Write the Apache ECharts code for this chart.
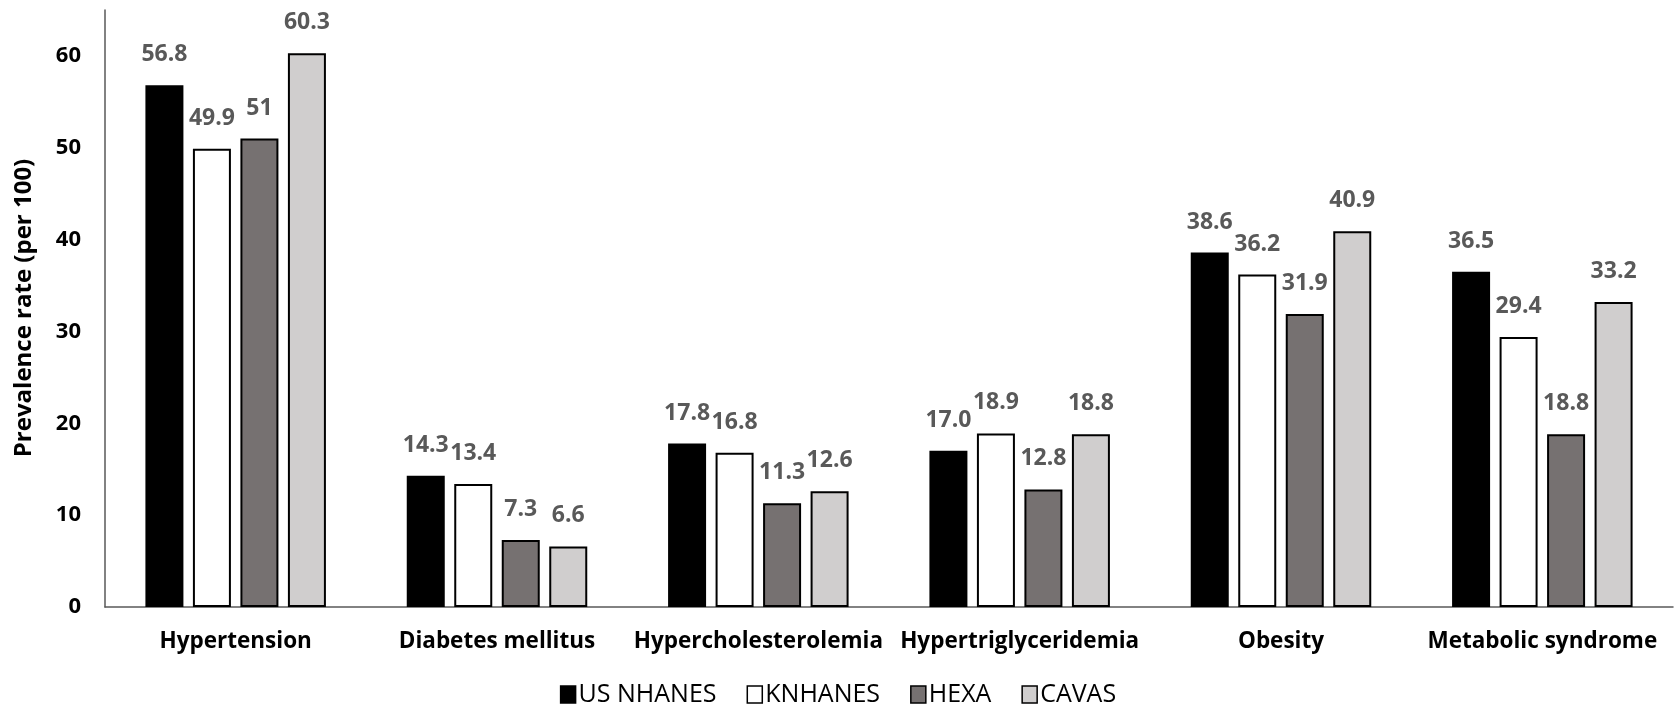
<!DOCTYPE html>
<html>
<head>
<meta charset="utf-8">
<script src="https://cdn.jsdelivr.net/npm/echarts@6/dist/echarts.min.js"></script>
<style>
  html, body { margin: 0; padding: 0; background: #fff; }
  #chart { width: 1676px; height: 712px; }
</style>
</head>
<body>
<div id="chart"></div>
<script>
// Prevalence of cardiometabolic conditions across four cohorts (per 100)
const categories = ['Hypertension', 'Diabetes mellitus', 'Hypercholesterolemia',
  'Hypertriglyceridemia', 'Obesity', 'Metabolic syndrome'];

// Values kept as printed so each label shows exactly the figure its bar is drawn from
const usNhanes = ['56.8', '14.3', '17.8', '17.0', '38.6', '36.5'];
const knhanes  = ['49.9', '13.4', '16.8', '18.9', '36.2', '29.4'];
const hexa     = ['51',   '7.3',  '11.3', '12.8', '31.9', '18.8'];
const cavas    = ['60.3', '6.6',  '12.6', '18.8', '40.9', '33.2'];

const seriesNames = ['US NHANES', 'KNHANES', 'HEXA', 'CAVAS'];
const seriesValues = [usNhanes, knhanes, hexa, cavas];
const fills = ['#000000', '#ffffff', '#767171', '#d0cece'];

const yTicks = [0, 10, 20, 30, 40, 50, 60];
const yTitle = 'Prevalence rate (per 100)';

const FONT = '"Open Sans", "Noto Sans", sans-serif';

const chart = echarts.init(document.getElementById('chart'), null, { renderer: 'canvas' });

const series = seriesNames.map((name, i) => ({
  name,
  type: 'bar',
  data: seriesValues[i].map(Number),
  barWidth: 38,
  barGap: '25%',
  itemStyle: { color: fills[i], borderColor: '#000', borderWidth: 2 },
  label: {
    show: true,
    position: 'top',
    distance: 19,
    color: '#595959',
    fontFamily: FONT,
    fontWeight: 'bold',
    fontSize: 23,
    formatter: p => seriesValues[i][p.dataIndex]
  }
}));

chart.setOption({
  animation: false,
  backgroundColor: '#fff',
  textStyle: { fontFamily: FONT },
  grid: { left: 105, right: 3, top: 10, bottom: 105, containLabel: false },
  // vertical y-axis title, centred on the plot height
  graphic: [{
    type: 'text',
    x: 24,
    y: 308,
    rotation: Math.PI / 2,
    style: {
      text: yTitle,
      fontFamily: FONT,
      fontWeight: 'bold',
      fontSize: 24,
      fill: '#000',
      align: 'center',
      verticalAlign: 'middle'
    }
  }],
  legend: {
    data: seriesNames,
    bottom: 0,
    left: 'center',
    itemWidth: 15,
    itemHeight: 17,
    itemGap: 30,
    icon: 'rect',
    textStyle: { fontFamily: FONT, fontSize: 25, color: '#000', padding: [0, 0, 0, -2] },
    itemStyle: { borderColor: '#000', borderWidth: 1.5 }
  },
  xAxis: {
    type: 'category',
    data: categories,
    axisLine: { lineStyle: { color: '#595959', width: 1.5 } },
    axisTick: { show: false },
    axisLabel: {
      interval: 0,
      margin: 23,
      color: '#000',
      fontFamily: FONT,
      fontWeight: 'bold',
      fontSize: 22.5
    }
  },
  yAxis: {
    type: 'value',
    min: yTicks[0],
    max: 65,
    interval: 10,
    axisLine: { show: true, lineStyle: { color: '#595959', width: 1.5 } },
    axisTick: { show: false },
    splitLine: { show: false },
    axisLabel: {
      showMaxLabel: false,
      margin: 24,
      color: '#000',
      fontFamily: FONT,
      fontWeight: 'bold',
      fontSize: 22,
      formatter: v => (yTicks.includes(v) ? String(v) : '')
    }
  },
  series
});
</script>
</body>
</html>
